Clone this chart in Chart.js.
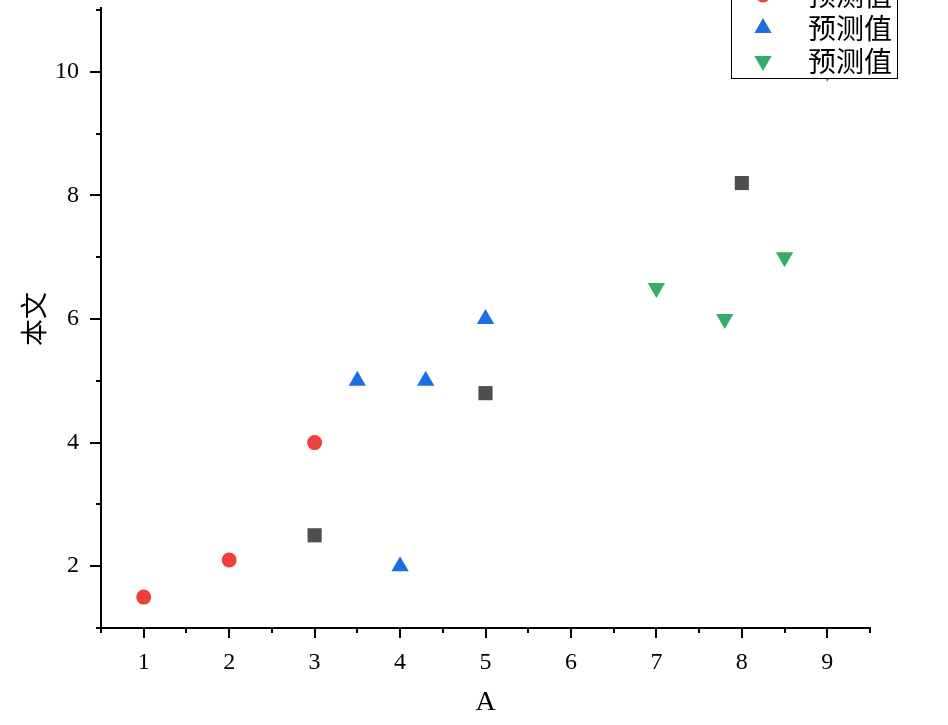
<!DOCTYPE html>
<html>
<head>
<meta charset="utf-8">
<script src="https://cdn.jsdelivr.net/npm/chart.js@4"></script>
<style>
  body { margin: 0; background: #fff; }
  canvas { display: block; }
</style>
</head>
<body>
<canvas id="scatterChart" width="948" height="725"></canvas>
<script>
// データ
const seriesNames = ['预测值', '预测值', '预测值', '预测值'];
const squareX = [3, 5, 8];
const squareY = [2.5, 4.8, 8.2];
const circleX = [1, 2, 3];
const circleY = [1.5, 2.1, 4.0];
const upTriX = [3.5, 4, 4.3, 5];
const upTriY = [5.0, 2.0, 5.0, 6.0];
const downTriX = [7, 7.8, 8.5, 9];
const downTriY = [6.5, 6.0, 7.0, 10.0];
const xTickLabels = ['1', '2', '3', '4', '5', '6', '7', '8', '9'];
const yTickLabels = ['2', '4', '6', '8', '10'];

function toPoints(xs, ys) {
  return xs.map((x, i) => ({ x: x, y: ys[i] }));
}

const numFont = { family: '"Liberation Serif", serif', size: 24 };

// 目盛り線を手で描く（主目盛りと補助目盛りで長さを変える）
const tickMarks = {
  id: 'tickMarks',
  afterDraw(chart) {
    const ctx = chart.ctx;
    const xs = chart.scales.x;
    const ys = chart.scales.y;
    ctx.save();
    ctx.strokeStyle = '#000';
    ctx.lineWidth = 2;
    ctx.beginPath();
    xs.ticks.forEach(t => {
      const px = Math.round(xs.getPixelForValue(t.value));
      const len = Number.isInteger(t.value) ? 10 : 5;
      ctx.moveTo(px, xs.top);
      ctx.lineTo(px, xs.top + len);
    });
    ys.ticks.forEach(t => {
      const py = Math.round(ys.getPixelForValue(t.value));
      const len = t.value % 2 === 0 ? 11 : 5;
      ctx.moveTo(ys.right, py);
      ctx.lineTo(ys.right - len, py);
    });
    ctx.moveTo(ys.right, ys.top);
    ctx.lineTo(ys.right, ys.top - 3);
    ctx.stroke();
    ctx.restore();
  }
};

function drawMarker(ctx, ds, x, y) {
  const r = ds.pointRadius;
  ctx.fillStyle = ds.backgroundColor;
  ctx.beginPath();
  if (ds.pointStyle === 'circle') {
    ctx.arc(x, y, r, 0, Math.PI * 2);
  } else if (ds.pointStyle === 'rect') {
    const s = Math.SQRT1_2 * r;
    ctx.rect(x - s, y - s, 2 * s, 2 * s);
  } else {
    let rad = (ds.pointRotation || 0) * Math.PI / 180;
    for (let i = 0; i < 3; i++) {
      const px = x + Math.sin(rad) * r;
      const py = y - Math.cos(rad) * r;
      if (i === 0) ctx.moveTo(px, py); else ctx.lineTo(px, py);
      rad += Math.PI * 2 / 3;
    }
    ctx.closePath();
  }
  ctx.fill();
}

// 右上の凡例（上部は図の外にはみ出している）
const boxLegend = {
  id: 'boxLegend',
  afterDraw(chart) {
    const ctx = chart.ctx;
    const area = chart.chartArea;
    const right = area.right + 28;
    const left = right - 167;
    const bottom = area.top + 69;
    const rowH = 33;
    const n = chart.data.datasets.length;
    const top = bottom - n * rowH - 12;
    ctx.save();
    ctx.fillStyle = '#fff';
    ctx.fillRect(left, top, right - left, bottom - top);
    ctx.strokeStyle = '#000';
    ctx.lineWidth = 1;
    ctx.strokeRect(left + 0.5, top + 0.5, right - left - 1, bottom - top - 1);
    chart.data.datasets.forEach((ds, i) => {
      const cy = bottom - 18 - (n - 1 - i) * rowH;
      drawMarker(ctx, ds, left + 32, cy);
      ctx.fillStyle = '#000';
      ctx.font = '28px "Noto Sans CJK SC", sans-serif';
      ctx.textBaseline = 'middle';
      ctx.textAlign = 'left';
      ctx.fillText(ds.label, left + 77, cy);
    });
    ctx.restore();
  }
};

let ctx = document.getElementById('scatterChart').getContext('2d');
let scatterChart = new Chart(ctx, {
  type: 'scatter',
  data: {
    datasets: [{
      label: seriesNames[0],
      data: toPoints(squareX, squareY),
      pointStyle: 'rect',
      pointRadius: 10,
      backgroundColor: '#4f4f4f',
      borderWidth: 0
    },
    {
      label: seriesNames[1],
      data: toPoints(circleX, circleY),
      pointStyle: 'circle',
      pointRadius: 7.5,
      backgroundColor: '#ee3f3f',
      borderWidth: 0
    },
    {
      label: seriesNames[2],
      data: toPoints(upTriX, upTriY),
      pointStyle: 'triangle',
      pointRadius: 10,
      backgroundColor: '#1d6fdf',
      borderWidth: 0
    },
    {
      label: seriesNames[3],
      data: toPoints(downTriX, downTriY),
      pointStyle: 'triangle',
      pointRotation: 180,
      pointRadius: 10,
      backgroundColor: '#35ae6b',
      borderWidth: 0
    }]
  },
  options: {
    responsive: false,
    animation: false,
    devicePixelRatio: 1,
    layout: { padding: { top: 10, right: 78, left: 0, bottom: 0 } },
    plugins: {
      legend: { display: false },
      tooltip: { enabled: false }
    },
    scales: {
      x: {
        type: 'linear',
        min: 0.5,
        max: 9.5,
        grid: { display: false },
        border: { display: true, color: '#000', width: 2 },
        ticks: {
          stepSize: 0.5,
          autoSkip: false,
          maxRotation: 0,
          padding: 12,
          color: '#000',
          font: numFont,
          callback: (v) => xTickLabels.includes(String(v)) ? String(v) : ''
        },
        title: {
          display: true,
          text: 'A',
          color: '#000',
          font: { family: '"Liberation Serif", serif', size: 28 },
          padding: { top: 0, bottom: 6 }
        },
        afterFit: (s) => {
          s.height = 97;
          s.paddingLeft = 0;
          s.paddingRight = 0;
        }
      },
      y: {
        type: 'linear',
        min: 1,
        max: 11,
        grid: { display: false },
        border: { display: true, color: '#000', width: 2 },
        ticks: {
          stepSize: 1,
          autoSkip: false,
          padding: 14,
          color: '#000',
          font: numFont,
          callback: (v) => yTickLabels.includes(String(v)) ? String(v) : ''
        },
        title: {
          display: true,
          text: '本文',
          color: '#000',
          font: { family: '"Noto Sans CJK SC", sans-serif', size: 27 },
          padding: { top: 18, bottom: 0 }
        },
        afterFit: (s) => {
          s.width = 101;
          s.paddingTop = 0;
          s.paddingBottom = 0;
        }
      }
    }
  },
  plugins: [tickMarks, boxLegend]
});
</script>
</body>
</html>
